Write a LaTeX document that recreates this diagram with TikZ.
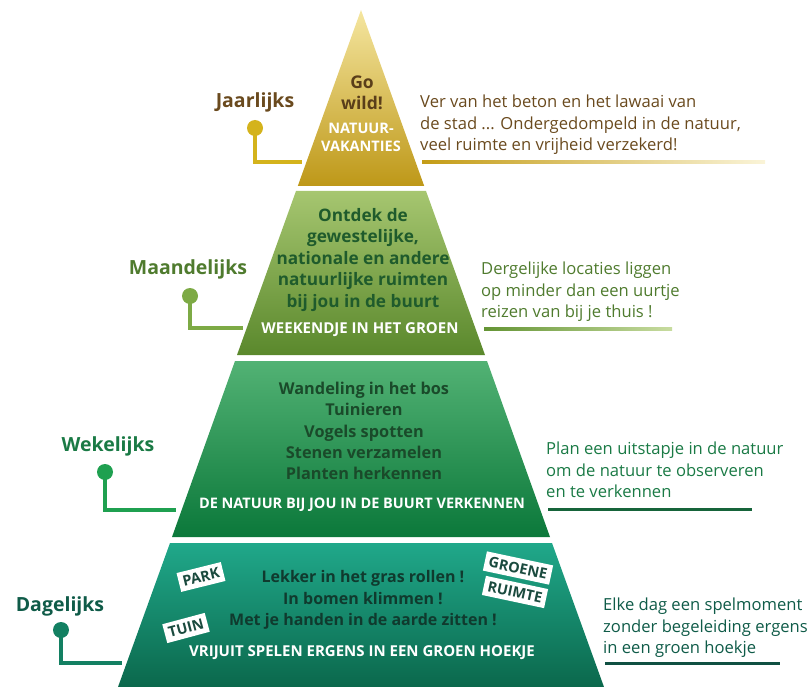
\documentclass[tikz,border=0pt]{standalone}
\usepackage{fontspec}
\setmainfont{Open Sans}
\definecolor{ybrown}{HTML}{6A4A1E}
\definecolor{ygold}{HTML}{D4B31C}
\definecolor{mgreen}{HTML}{4F7B2E}
\definecolor{mline}{HTML}{7DAA45}
\definecolor{wgreen}{HTML}{1A7A45}
\definecolor{wline}{HTML}{1FA050}
\definecolor{dgreen}{HTML}{0F5B48}
\definecolor{dline}{HTML}{138062}
\definecolor{tagtext}{HTML}{1A4A3E}
\definecolor{inY}{HTML}{5A3E1A}
\definecolor{inM}{HTML}{1F5B2C}
\definecolor{inW}{HTML}{1A4A2A}
\definecolor{inD}{HTML}{103A2E}
\definecolor{y1}{HTML}{F5E6A0}
\definecolor{y2}{HTML}{E8C41E}
\definecolor{y3}{HTML}{BE9818}
\definecolor{m1}{HTML}{A6C670}
\definecolor{m2}{HTML}{5A882C}
\definecolor{w1}{HTML}{52B274}
\definecolor{w2}{HTML}{00A650}
\definecolor{w3}{HTML}{0B783A}
\definecolor{g1}{HTML}{20A88A}
\definecolor{g2}{HTML}{0B8E66}
\definecolor{g3}{HTML}{0B684C}
\definecolor{u1a}{HTML}{C49C16}
\definecolor{u1b}{HTML}{ECC828}
\definecolor{u1c}{HTML}{FAF4D8}
\definecolor{u2a}{HTML}{649434}
\definecolor{u2b}{HTML}{C8DCA0}
\definecolor{u3}{HTML}{16643A}
\definecolor{u4}{HTML}{105042}
\tikzset{
  freq/.style={font=\bfseries\fontsize{19.5}{22}\selectfont, inner sep=0pt},
  dotnode/.style={circle, fill=#1, minimum size=16pt, inner sep=0pt},
  conn/.style={draw=#1, line width=4.5pt},
  desc/.style={font=\fontsize{16.6}{21.3}\selectfont, align=left, anchor=north west, inner sep=0pt},
  inner/.style={font=\bfseries\fontsize{16.3}{21.3}\selectfont, align=center, inner sep=0pt},
  caps/.style={font=\bfseries\fontsize{15}{17}\selectfont, text=white, inner sep=0pt},
  tag/.style={fill=white, text=tagtext, font=\bfseries\fontsize{14.5}{16}\selectfont, inner xsep=4pt, inner ysep=4.5pt},
}
\begin{document}
\begin{tikzpicture}[x=1pt,y=-1pt]
\useasboundingbox (0,0) rectangle (811,687);
% tiers
\shade[top color=y1, middle color=y2, bottom color=y3]
  (361,10) -- (424.2,186) -- (297.8,186) -- cycle;
\shade[top color=m1, bottom color=m2]
  (296,191) -- (426,191) -- (485,355) -- (237,355) -- cycle;
\shade[top color=w1, middle color=w2, bottom color=w3]
  (235,361) -- (487,361) -- (550,537) -- (172,537) -- cycle;
\shade[top color=g1, middle color=g2, bottom color=g3]
  (170,543) -- (552,543) -- (604,687) -- (118,687) -- cycle;

% tier 1 texts
\node[inner, text=inY, font=\bfseries\fontsize{17.5}{21.3}\selectfont] (go) at (362,93) {Go\\wild!};
\node[caps, align=center, font=\bfseries\fontsize{14.5}{18}\selectfont] (nat) at (361,137) {NATUUR-\\VAKANTIES};
% tier 2
\node[inner, text=inM, font=\bfseries\fontsize{17.2}{21.5}\selectfont] (t2) at (363,260) {Ontdek de\\gewestelijke,\\nationale en andere\\natuurlijke ruimten\\bij jou in de buurt};
\node[caps] (c2) at (360,330) {WEEKENDJE IN HET GROEN};
% tier 3
\node[inner, text=inW] (t3) at (364,431) {Wandeling in het bos\\Tuinieren\\Vogels spotten\\Stenen verzamelen\\Planten herkennen};
\node[caps, font=\bfseries\fontsize{14.5}{17}\selectfont] (c3) at (362,505) {DE NATUUR BIJ JOU IN DE BUURT VERKENNEN};
% tier 4
\node[inner, text=inD, font=\bfseries\fontsize{16}{21.3}\selectfont] (t4) at (363,600) {Lekker in het gras rollen !\\In bomen klimmen !\\Met je handen in de aarde zitten !};
\node[caps] (c4) at (362,653) {VRIJUIT SPELEN ERGENS IN EEN GROEN HOEKJE};
\node[tag, rotate=14] (park) at (201,577) {PARK};
\node[tag, rotate=15] (tuin) at (186,628) {TUIN};
\node[tag, rotate=-12] (groene) at (518,568) {GROENE};
\node[tag, rotate=-12] (ruimte) at (515,592) {RUIMTE};

% left labels and connectors
\node[freq, text=ybrown] (jaar) at (255,102) {Jaarlijks};
\node[dotnode=ygold] (d1) at (255,128) {};
\coordinate (e1) at (302,162);
\draw[conn=ygold] (d1.center) |- (e1);

\node[freq, text=mgreen] (maand) at (188,269) {Maandelijks};
\node[dotnode=mline] (d2) at (190,296) {};
\coordinate (e2) at (243,328);
\draw[conn=mline] (d2.center) |- (e2);

\node[freq, text=wgreen] (week) at (108,446) {Wekelijks};
\node[dotnode=wline] (d3) at (105,472) {};
\coordinate (e3) at (176,510);
\draw[conn=wline] (d3.center) |- (e3);

\node[freq, text=dgreen] (dag) at (60,606) {Dagelijks};
\node[dotnode=dline] (d4) at (61,630) {};
\coordinate (e4) at (122,663);
\draw[conn=dline] (d4.center) |- (e4);

% right descriptions
\node[desc, text=ybrown] (r1) at (420,95) {Ver van het beton en het lawaai van\\de stad ... Ondergedompeld in de natuur,\\veel ruimte en vrijheid verzekerd!};
\shade[left color=u1a, middle color=u1b, right color=u1c] (422,160.5) rectangle (765,163.5);
\node[desc, text=mgreen] (r2) at (481,262) {Dergelijke locaties liggen\\op minder dan een uurtje\\reizen van bij je thuis !};
\shade[left color=u2a, right color=u2b] (484,327.5) rectangle (672,330.5);
\node[desc, text=wgreen] (r3) at (546,442) {Plan een uitstapje in de natuur\\om de natuur te observeren\\en te verkennen};
\fill[u3] (548,508) rectangle (752,511);
\node[desc, text=dgreen] (r4) at (603,598) {Elke dag een spelmoment\\zonder begeleiding ergens\\in een groen hoekje};
\fill[u4] (605,661.5) rectangle (780,664.5);
\end{tikzpicture}
\end{document}
